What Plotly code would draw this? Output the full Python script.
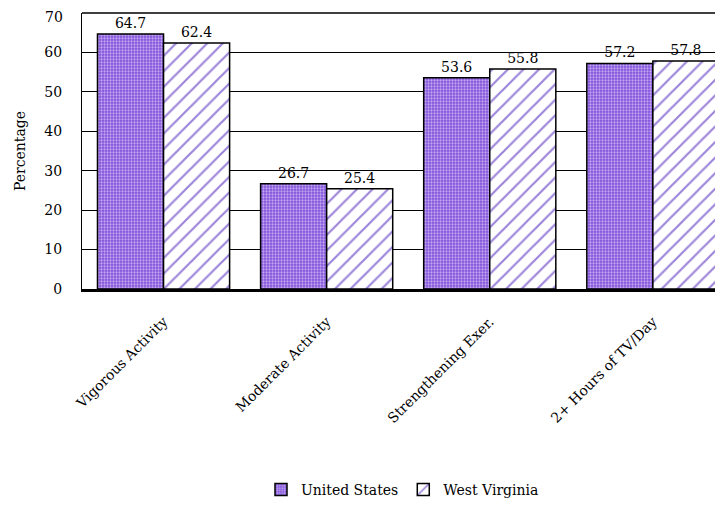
import plotly.graph_objects as go

categories = ["Vigorous Activity", "Moderate Activity", "Strengthening Exer.", "2+ Hours of TV/Day"]
us_values = [64.7, 26.7, 53.6, 57.2]
wv_values = [62.4, 25.4, 55.8, 57.8]
y_ticks = [0, 10, 20, 30, 40, 50, 60, 70]

font_family = "DejaVu Serif, Liberation Serif, serif"
fs = 14

fig = go.Figure()
fig.add_trace(go.Bar(
    name="United States", x=categories, y=us_values,
    text=[f"{v:.1f}" for v in us_values], textposition="outside",
    textfont=dict(size=fs, color="black", family=font_family),
    marker=dict(color="#8250dc", line=dict(color="black", width=1.5),
                pattern=dict(shape=".", fgcolor="white", size=3, solidity=0.45)),
    cliponaxis=False,
))
fig.add_trace(go.Bar(
    name="West Virginia", x=categories, y=wv_values,
    text=[f"{v:.1f}" for v in wv_values], textposition="outside",
    textfont=dict(size=fs, color="black", family=font_family),
    marker=dict(color="white", line=dict(color="black", width=1.5),
                pattern=dict(shape="/", fgcolor="#3a0cb4", bgcolor="white", size=11, solidity=0.2)),
    cliponaxis=False,
))

# The page has an 8px body margin, so the figure is sized to fit the window after that offset.
fig.update_layout(
    width=715, height=500,
    margin=dict(l=74, r=0, t=5, b=219),
    plot_bgcolor="white", paper_bgcolor="white",
    barmode="group", bargap=0.19, bargroupgap=0.0,
    font=dict(family=font_family, size=fs, color="black"),
    showlegend=True,
    legend=dict(orientation="h", x=0.5, xanchor="center", y=-0.728, yanchor="middle",
                font=dict(size=fs, family=font_family), traceorder="normal"),
)
fig.update_yaxes(
    range=[0, 70], tickvals=y_ticks[:-1], ticktext=[str(t) for t in y_ticks[:-1]],
    showgrid=True, gridcolor="black", gridwidth=1,
    showline=True, linecolor="black", linewidth=1, mirror=False,
    ticks="", tickfont=dict(size=fs, family=font_family),
    ticklabelstandoff=16,
    title=dict(text="Percentage", font=dict(size=fs, family=font_family), standoff=15),
    zeroline=False,
)
# top tick label (plotly hides it because it touches the figure edge)
fig.add_annotation(x=0, y=y_ticks[-1], xref="paper", yref="y", text=str(y_ticks[-1]),
                   showarrow=False, xanchor="right", yanchor="middle", xshift=-17, yshift=-4,
                   font=dict(size=fs, family=font_family, color="black"))
fig.update_xaxes(
    range=[-0.5, 3.43], tickangle=-45,
    showline=True, linecolor="black", linewidth=3,
    ticks="", tickfont=dict(size=fs, family=font_family),
    ticklabelstandoff=16, ticklabelshift=0,
)
# top border line
fig.add_shape(type="line", xref="paper", yref="paper", x0=0, x1=1, y0=1, y1=1,
              line=dict(color="black", width=1.5))

fig.write_html("out.html")
